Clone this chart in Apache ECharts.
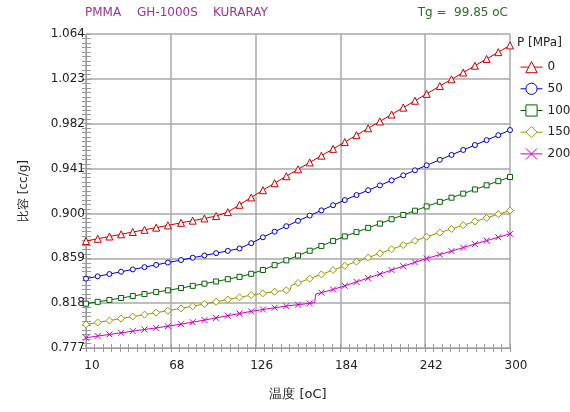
<!DOCTYPE html>
<html>
<head>
<meta charset="utf-8">
<script src="https://cdn.jsdelivr.net/npm/echarts@6/dist/echarts.min.js"></script>
<style>
html,body{margin:0;padding:0;background:#ffffff;}
#chart{width:570px;height:412px;}
</style>
</head>
<body>
<div id="chart"></div>
<script>
// ---- data ----
const temps = [10,18,26,34,42,50,58,66,75,83,91,99,107,115,123,131,139,147,155,163,171,179,187,195,203,211,219,227,235,243,252,260,268,276,284,292,300];
const pressureNames = ['0','50','100','150','200'];
const vol0   = [0.8748,0.8768,0.8789,0.8809,0.8830,0.8850,0.8870,0.8891,0.8914,0.8934,0.8954,0.8976,0.9012,0.9079,0.9146,0.9212,0.9276,0.9340,0.9403,0.9466,0.9528,0.9590,0.9652,0.9715,0.9778,0.9841,0.9904,0.9967,1.0030,1.0093,1.0164,1.0226,1.0288,1.0350,1.0412,1.0474,1.0536];
const vol50  = [0.8404,0.8425,0.8446,0.8467,0.8488,0.8509,0.8530,0.8551,0.8574,0.8595,0.8616,0.8637,0.8658,0.8680,0.8728,0.8782,0.8833,0.8883,0.8932,0.8980,0.9028,0.9075,0.9122,0.9168,0.9212,0.9256,0.9302,0.9348,0.9394,0.9440,0.9490,0.9535,0.9580,0.9625,0.9670,0.9715,0.9762];
const vol100 = [0.8175,0.8192,0.8209,0.8227,0.8245,0.8263,0.8281,0.8297,0.8318,0.8338,0.8358,0.8378,0.8399,0.8420,0.8448,0.8483,0.8527,0.8571,0.8615,0.8659,0.8703,0.8747,0.8790,0.8829,0.8868,0.8907,0.8947,0.8986,0.9025,0.9064,0.9106,0.9144,0.9181,0.9219,0.9257,0.9295,0.9333];
const vol150 = [0.7986,0.8003,0.8021,0.8039,0.8057,0.8075,0.8093,0.8111,0.8132,0.8152,0.8172,0.8193,0.8213,0.8233,0.8253,0.8270,0.8284,0.8297,0.8365,0.8404,0.8443,0.8482,0.8521,0.8559,0.8597,0.8635,0.8673,0.8711,0.8749,0.8787,0.8825,0.8858,0.8892,0.8926,0.8959,0.8993,0.9026];
const vol200 = [0.7864,0.7879,0.7894,0.7909,0.7924,0.7939,0.7954,0.7969,0.7988,0.8006,0.8025,0.8045,0.8065,0.8085,0.8105,0.8122,0.8138,0.8153,0.8166,0.8178,0.8276,0.8305,0.8338,0.8374,0.8410,0.8446,0.8482,0.8518,0.8553,0.8588,0.8624,0.8656,0.8688,0.8720,0.8751,0.8782,0.8813];
// step points (no marker) where the curve jumps
const step150 = [[149.5,0.8300],[150.5,0.8343]];
const step200 = [[166.5,0.8184],[167,0.8262]];
// tick labels
const xTickLabels = ['10','68','126','184','242','300'];
const yTickLabels = ['0.777','0.818','0.859','0.900','0.941','0.982','1.023','1.064'];

// axis geometry (axis values are offset so ticks start at 0)
const X0 = 10, XSPAN = 290, XINT = 58;
const Y0 = 0.777, YSPAN = 0.287, YINT = 0.041;

function build(vals, extra){
  const pts = temps.map((t,i)=>({value:[t-X0, vals[i]-Y0]}));
  (extra||[]).forEach(p=>pts.push({value:[p[0]-X0, p[1]-Y0], symbol:'none'}));
  pts.sort((a,b)=>a.value[0]-b.value[0]);
  return pts;
}

const FONT = 'DejaVu Sans';
const GRID = '#a8a8a8';
const FRAME = '#9a9a9a';

const colors = ['#cc0000','#0000cc','#006600','#999900','#cc00cc'];
const symbols = ['triangle','circle','rect','diamond','path://M0,0L10,10M10,0L0,10'];
const sizes = [7,5,5,7,6];
const volumes = [vol0, vol50, vol100, vol150, vol200];
const steps = [null, null, null, step150, step200];

const series = pressureNames.map((n,i)=>({
  name:n, type:'line', data:build(volumes[i], steps[i]),
  symbol:symbols[i], symbolSize:sizes[i], showAllSymbol:true,
  lineStyle:{color:colors[i], width:1},
  itemStyle:{color: i===4 ? colors[i] : '#ffffff', borderColor:colors[i], borderWidth:1},
  emphasis:{disabled:true}, animation:false
}));

const chart = echarts.init(document.getElementById('chart'), null, {renderer:'canvas'});
const axisX = (pos, labels) => ({
  type:'value', position:pos, min:0, max:XSPAN, interval:XINT,
  axisLine:{show:true, lineStyle:{color:FRAME, width:1}},
  axisTick:{show:true, inside:true, length:4, lineStyle:{color:FRAME}},
  minorTick:{show:true, splitNumber:10, length:4, lineStyle:{color:FRAME}},
  splitLine:{show:labels, lineStyle:{color:GRID, width:1.5}},
  axisLabel:{show:labels, fontFamily:FONT, fontSize:12, color:'#222', margin:12, padding:[0,0,0,12],
    formatter:v=>xTickLabels[Math.round(v/XINT)]},
  name: labels ? '温度 [oC]' : '', nameLocation:'middle', nameGap:40,
  nameTextStyle:{fontFamily:FONT, fontSize:13, color:'#222'}
});
const axisY = (pos, labels) => ({
  type:'value', position:pos, min:0, max:YSPAN, interval:YINT,
  axisLine:{show:true, lineStyle:{color:FRAME, width:1}},
  axisTick:{show:true, inside:true, length:labels?5:4, lineStyle:{color:FRAME}},
  minorTick:{show:true, splitNumber:10, length:labels?5:4, lineStyle:{color:FRAME}},
  splitLine:{show:labels, lineStyle:{color:GRID, width:1.5}},
  axisLabel:{show:labels, fontFamily:FONT, fontSize:12, color:'#222', margin:1, padding:[4,0,0,0],
    formatter:v=>yTickLabels[Math.round(v/YINT)]},
  name: labels ? '比容 [cc/g]' : '', nameLocation:'middle', nameGap:56,
  nameTextStyle:{fontFamily:FONT, fontSize:12, color:'#222'}
});

chart.setOption({
  backgroundColor:'#ffffff',
  animation:false,
  grid:{left:86, right:60, top:34, bottom:64, containLabel:false},
  xAxis:[axisX('bottom', true), axisX('top', false)],
  yAxis:[axisY('left', true), axisY('right', false)],
  legend:{
    orient:'vertical', left:515, top:56, itemWidth:22, itemHeight:14, itemGap:9.5,
    data:pressureNames,
    itemStyle:{borderWidth:1},
    lineStyle:{width:1},
    textStyle:{fontFamily:FONT, fontSize:12, color:'#222', padding:[0,0,0,0]},
    selectedMode:false
  },
  graphic:[
    {type:'text', x:85, y:13, style:{text:'PMMA', fill:'#993399', font:'12px "DejaVu Sans"', verticalAlign:'middle'}},
    {type:'text', x:137, y:13, style:{text:'GH-1000S', fill:'#993399', font:'12px "DejaVu Sans"', verticalAlign:'middle'}},
    {type:'text', x:213, y:13, style:{text:'KURARAY', fill:'#993399', font:'12px "DejaVu Sans"', verticalAlign:'middle'}},
    {type:'text', x:508, y:13, style:{text:'Tg =  99.85 oC', fill:'#2f6b2f', font:'12px "DejaVu Sans"', align:'right', verticalAlign:'middle'}},
    {type:'text', x:517, y:43, style:{text:'P [MPa]', fill:'#222', font:'12px "DejaVu Sans"', verticalAlign:'middle'}}
  ],
  series:series
});
</script>
</body>
</html>
